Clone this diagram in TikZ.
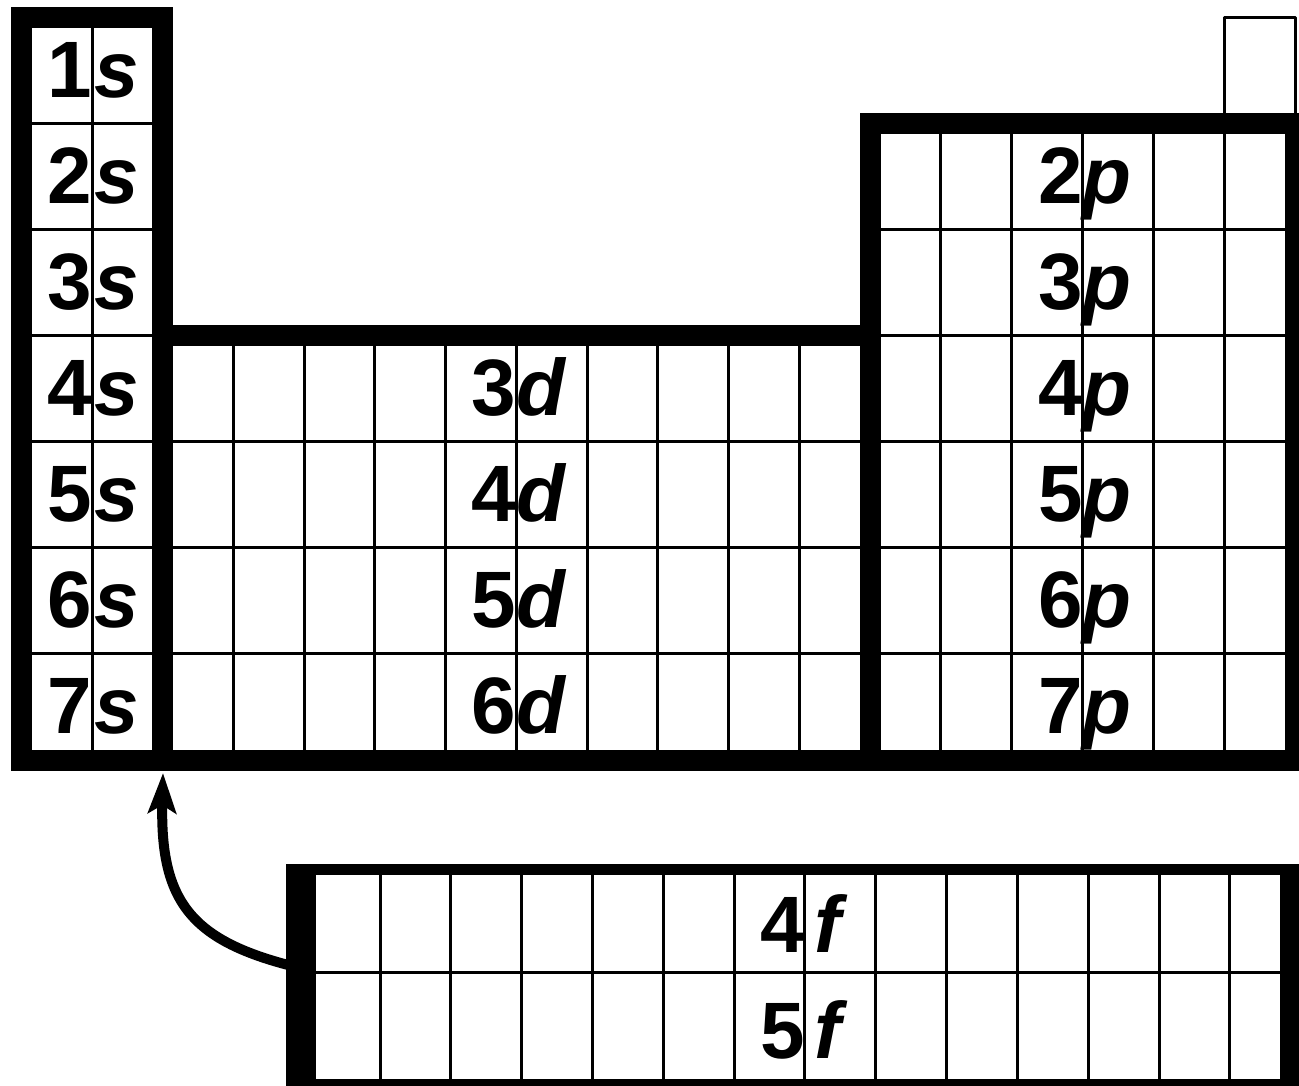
\documentclass[tikz,border=0pt]{standalone}
\usepackage{fontspec}
\setmainfont{Liberation Sans}
\usetikzlibrary{arrows.meta}
\newcommand\orb[3][0pt]{\llap{#2}\rlap{\kern#1\itshape #3}}
\begin{document}
\begin{tikzpicture}[x=1pt,y=-1pt,
  gridline/.style={line width=3pt},
  frame/.style={line width=21pt, line join=miter},
  lbl/.style={inner sep=0pt, anchor=base, font=\fontsize{80}{80}\selectfont\bfseries},
  link/.style={line width=10pt, -{Stealth[length=40pt,width=28pt,inset=8pt]}}
]
\useasboundingbox (0,0) rectangle (1299,1085);
\clip (0,0) rectangle (1299,1085);
\fill[white] (0,0) rectangle (1299,1085);

% s-block grid
\draw[gridline] (92,17.5) -- (92,760.5);
\foreach \k in {1,...,6} \draw[gridline] (21,{17.5+106*\k}) -- (162.5,{17.5+106*\k});
% d-block grid
\foreach \k in {1,...,9} \draw[gridline] ({162.5+70.75*\k},335.5) -- ({162.5+70.75*\k},760.5);
\foreach \k in {4,5,6} \draw[gridline] (162.5,{17.5+106*\k}) -- (870,{17.5+106*\k});
% p-block grid
\foreach \k in {1,...,5} \draw[gridline] ({870+70.9*\k},123.5) -- ({870+70.9*\k},760.5);
\foreach \k in {2,...,6} \draw[gridline] (870,{17.5+106*\k}) -- (1295.5,{17.5+106*\k});
% He box
\draw[gridline, line join=round] (1224.5,123.5) -- (1224.5,17.5) -- (1295.5,17.5) -- (1295.5,123.5);

% thick frame
\draw[frame] (21,17.5) -- (162.5,17.5) -- (162.5,335.5) -- (870,335.5) -- (870,123.5) -- (1295.5,123.5) -- (1295.5,760.5) -- (21,760.5) -- cycle;
\draw[frame] (162.5,335.5) -- (162.5,760.5);
\draw[frame] (870,335.5) -- (870,760.5);

% f block
\fill (286,864) rectangle (1310,1095);
\fill[white] (316,875) rectangle (1280,1079);
\foreach \k in {0,...,12} \draw[gridline] ({380+70.83*\k},875) -- ({380+70.83*\k},1079);
\draw[gridline] (316,972) -- (1280,972);

% labels
\foreach \r in {1,...,7} \node[lbl] (s\r) at (92,{97+106*(\r-1)}) {\orb[2pt]{\r}{s}};
\foreach \n [count=\i from 4] in {3,4,5,6} \node[lbl] (d\n) at (516.25,{97+106*(\i-1)}) {\orb{\n}{d}};
\foreach \r in {2,...,7} \node[lbl] (p\r) at (1082.7,{97+106*(\r-1)}) {\orb{\r}{p}};
\node[lbl] (f4) at (805,952) {\orb[9pt]{4}{f}};
\node[lbl] (f5) at (805,1058) {\orb[9pt]{5}{f}};

% arrow
\coordinate (fstart) at (292,966);
\coordinate (stip) at (163,773);
\draw[link] (fstart) .. controls (190,940) and (160,900) .. (stip);
\end{tikzpicture}
\end{document}
